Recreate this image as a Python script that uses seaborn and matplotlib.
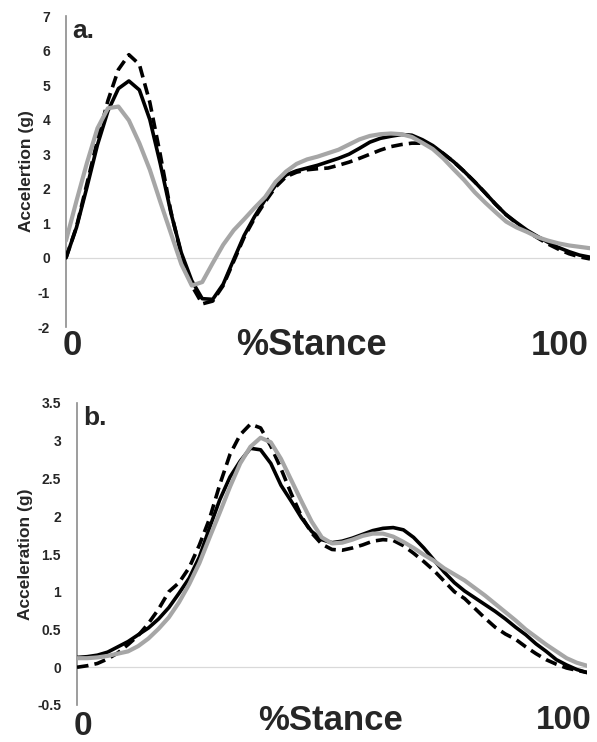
"""
Acceleration profiles over stance: two stacked panels (a. and b.)
Three conditions per panel: solid black, dashed black, solid grey.
"""

import numpy as np
import pandas as pd
import matplotlib
matplotlib.use("Agg")
import matplotlib.pyplot as plt
import seaborn as sns

sns.set_style("white")
plt.rcParams["font.family"] = ["Liberation Sans", "DejaVu Sans"]

# % stance, shared sampling for every curve
stance = list(range(0, 101, 2))

# panel a. values (g)
a_black = [0.0, 0.88, 2.05, 3.27, 4.25, 4.9, 5.12, 4.86, 4.0, 2.72, 1.32, 0.15,
           -0.66, -1.18, -1.2, -0.76, -0.05, 0.65, 1.2, 1.68, 2.1, 2.4, 2.52,
           2.6, 2.68, 2.78, 2.88, 3.0, 3.17, 3.35, 3.46, 3.52, 3.57, 3.55, 3.42,
           3.25, 3.02, 2.78, 2.5, 2.2, 1.88, 1.55, 1.25, 1.02, 0.8, 0.62, 0.45,
           0.3, 0.18, 0.08, 0.02]
a_dashed = [0.0, 0.9, 2.15, 3.4, 4.55, 5.45, 5.88, 5.6, 4.5, 2.98, 1.35, 0.1,
            -0.8, -1.33, -1.25, -0.8, -0.1, 0.6, 1.15, 1.62, 2.05, 2.35, 2.48,
            2.55, 2.58, 2.6, 2.68, 2.77, 2.88, 3.0, 3.12, 3.22, 3.28, 3.32, 3.32,
            3.22, 3.02, 2.78, 2.5, 2.2, 1.88, 1.55, 1.25, 1.0, 0.77, 0.58, 0.4,
            0.25, 0.12, 0.03, -0.03]
a_grey = [0.5, 1.65, 2.75, 3.75, 4.33, 4.38, 3.98, 3.32, 2.55, 1.62, 0.72, -0.18,
          -0.8, -0.7, -0.15, 0.38, 0.8, 1.12, 1.45, 1.76, 2.2, 2.5, 2.72, 2.85,
          2.93, 3.03, 3.13, 3.28, 3.43, 3.53, 3.58, 3.6, 3.58, 3.5, 3.33, 3.15,
          2.88, 2.56, 2.25, 1.9, 1.6, 1.32, 1.05, 0.88, 0.75, 0.6, 0.5, 0.42,
          0.36, 0.32, 0.28]

# panel b. values (g)
b_black = [0.13, 0.14, 0.16, 0.2, 0.27, 0.34, 0.43, 0.52, 0.64, 0.79, 0.98,
           1.18, 1.46, 1.85, 2.22, 2.52, 2.73, 2.9, 2.88, 2.7, 2.41, 2.2, 1.98,
           1.8, 1.69, 1.65, 1.67, 1.71, 1.76, 1.81, 1.84, 1.85, 1.82, 1.72,
           1.58, 1.42, 1.26, 1.12, 1.01, 0.92, 0.83, 0.74, 0.64, 0.53, 0.43,
           0.31, 0.21, 0.1, 0.03, -0.03, -0.07]
b_dashed = [0.0, 0.02, 0.05, 0.11, 0.19, 0.3, 0.42, 0.58, 0.77, 1.0, 1.12,
            1.32, 1.62, 1.97, 2.42, 2.82, 3.08, 3.22, 3.17, 2.93, 2.63, 2.3,
            2.0, 1.78, 1.63, 1.56, 1.55, 1.58, 1.62, 1.67, 1.69, 1.68, 1.61,
            1.51, 1.4, 1.28, 1.14, 1.0, 0.91, 0.78, 0.65, 0.53, 0.44, 0.37,
            0.27, 0.18, 0.1, 0.04, -0.01, -0.04, -0.07]
b_grey = [0.12, 0.12, 0.13, 0.15, 0.18, 0.21, 0.28, 0.38, 0.51, 0.66, 0.86,
          1.1, 1.38, 1.72, 2.05, 2.39, 2.7, 2.92, 3.04, 2.98, 2.76, 2.48, 2.2,
          1.93, 1.72, 1.64, 1.65, 1.69, 1.74, 1.77, 1.77, 1.73, 1.66, 1.58,
          1.49, 1.41, 1.31, 1.23, 1.15, 1.05, 0.95, 0.84, 0.73, 0.62, 0.5, 0.4,
          0.3, 0.21, 0.12, 0.06, 0.02]

a_yticks = list(range(-2, 8))
b_yticks = [-0.5, 0, 0.5, 1, 1.5, 2, 2.5, 3, 3.5]

AXIS_GREY = "#8C8C8C"
CURVE_GREY = "#A6A6A6"


def draw_panel(ax, black, dashed, grey, yticks, ylabel, letter, ypad):
    df = pd.DataFrame({"stance": stance, "black": black,
                       "dashed": dashed, "grey": grey})
    ax.axhline(0, color="#D9D9D9", lw=0.9, zorder=0)
    sns.lineplot(data=df, x="stance", y="black", ax=ax, color="black",
                 lw=2.6, zorder=3)
    sns.lineplot(data=df, x="stance", y="dashed", ax=ax, color="black",
                 lw=2.6, zorder=3, linestyle=(0, (3.2, 1.7)))
    sns.lineplot(data=df, x="stance", y="grey", ax=ax, color=CURVE_GREY,
                 lw=3.0, zorder=4)

    ax.set_xlim(0, 100)
    ax.set_ylim(yticks[0], yticks[-1])
    ax.set_yticks(yticks)
    ax.set_yticklabels([f"{t:g}" for t in yticks], fontweight="bold",
                       fontsize=10, color="#262626")
    ax.set_xticks([])
    ax.set_xlabel("")
    ax.set_ylabel(ylabel, fontsize=12.5, fontweight="bold", color="#262626",
                  labelpad=ypad)

    for side in ["top", "right", "bottom"]:
        ax.spines[side].set_visible(False)
    ax.spines["left"].set_color(AXIS_GREY)
    ax.spines["left"].set_linewidth(1.2)
    ax.tick_params(axis="y", direction="out", length=4.5, width=1.2,
                   color=AXIS_GREY, pad=7)

    ax.text(0.012, 0.99, letter, transform=ax.transAxes, ha="left", va="top",
            fontsize=19, fontweight="bold")
    return ax


fig = plt.figure(figsize=(5.97, 7.42), dpi=100)
ax_a = fig.add_axes([66 / 597, 1 - 327 / 742, 524 / 597, 311 / 742])
ax_b = fig.add_axes([77 / 597, 1 - 705 / 742, 510 / 597, 302 / 742])

draw_panel(ax_a, a_black, a_dashed, a_grey, a_yticks, "Accelertion (g)", "a.", 3)
draw_panel(ax_b, b_black, b_dashed, b_grey, b_yticks, "Acceleration (g)", "b.", 3)

# big "0  %Stance  100" captions under each panel
big = dict(fontweight="bold", va="center", ha="center")
ax_a.text(0.011, -0.058, "0", transform=ax_a.transAxes, fontsize=25, **big)
ax_a.text(0.468, -0.058, "%Stance", transform=ax_a.transAxes, fontsize=26, **big)
ax_a.text(0.943, -0.058, "100", transform=ax_a.transAxes, fontsize=25, **big)
ax_b.text(0.012, -0.07, "0", transform=ax_b.transAxes, fontsize=24, **big)
ax_b.text(0.498, -0.05, "%Stance", transform=ax_b.transAxes, fontsize=25, **big)
ax_b.text(0.955, -0.05, "100", transform=ax_b.transAxes, fontsize=24, **big)

fig.savefig("out.png", dpi=100)
